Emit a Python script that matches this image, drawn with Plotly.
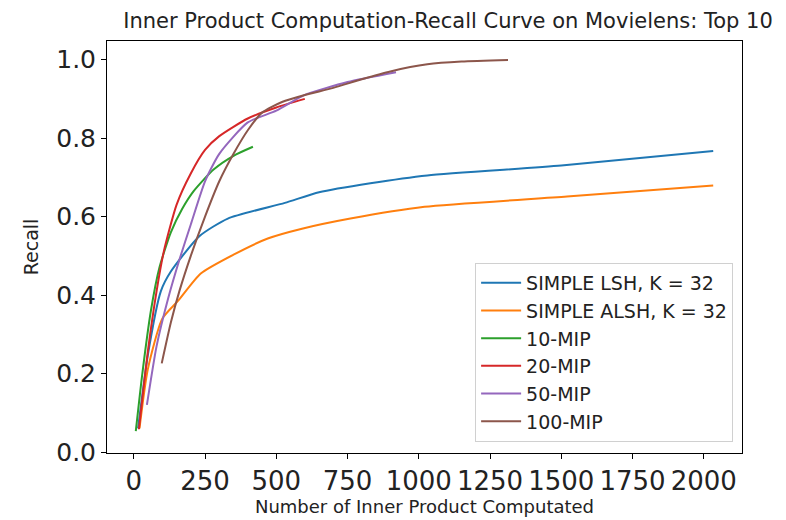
import plotly.graph_objects as go

title = "Inner Product Computation-Recall Curve on Movielens: Top 10"
x_label = "Number of Inner Product Computated"
y_label = "Recall"

names = ["SIMPLE LSH, K = 32", "SIMPLE ALSH, K = 32", "10-MIP", "20-MIP", "50-MIP", "100-MIP"]
colors = ["#1f77b4", "#ff7f0e", "#2ca02c", "#d62728", "#9467bd", "#8c564b"]

lsh_x = [15, 50, 95, 130, 230, 330, 530, 650, 830, 1030, 1500, 2033]
lsh_y = [0.06, 0.25, 0.41, 0.46, 0.55, 0.595, 0.635, 0.662, 0.685, 0.705, 0.73, 0.767]

alsh_x = [20, 49, 100, 155, 235, 350, 470, 590, 760, 1020, 1520, 2033]
alsh_y = [0.06, 0.21, 0.34, 0.385, 0.455, 0.503, 0.544, 0.569, 0.595, 0.625, 0.651, 0.679]

mip10_x = [7, 30, 60, 90, 130, 170, 210, 280, 350, 418]
mip10_y = [0.053, 0.2, 0.36, 0.47, 0.56, 0.62, 0.665, 0.72, 0.755, 0.778]

mip20_x = [18, 50, 80, 105, 150, 200, 250, 300, 400, 500, 600]
mip20_y = [0.058, 0.26, 0.41, 0.51, 0.63, 0.71, 0.77, 0.805, 0.85, 0.878, 0.9]

mip50_x = [46, 80, 120, 160, 200, 250, 300, 400, 500, 600, 750, 920]
mip50_y = [0.12, 0.27, 0.39, 0.49, 0.58, 0.69, 0.76, 0.84, 0.87, 0.91, 0.943, 0.968]

mip100_x = [98, 130, 160, 200, 250, 300, 350, 400, 450, 520, 600, 700, 800, 900, 1030, 1150, 1313]
mip100_y = [0.226, 0.33, 0.41, 0.5, 0.6, 0.69, 0.76, 0.82, 0.865, 0.892, 0.91, 0.928, 0.95, 0.97, 0.988, 0.995, 0.999]

x_ticks = [0, 250, 500, 750, 1000, 1250, 1500, 1750, 2000]
y_ticks = [0.0, 0.2, 0.4, 0.6, 0.8, 1.0]

series = [(lsh_x, lsh_y), (alsh_x, alsh_y), (mip10_x, mip10_y),
          (mip20_x, mip20_y), (mip50_x, mip50_y), (mip100_x, mip100_y)]

fig = go.Figure()
for (xs, ys), n, c in zip(series, names, colors):
    fig.add_trace(go.Scatter(x=xs, y=ys, mode="lines", name=n,
                             line=dict(color=c, width=2, shape="spline", smoothing=0.6)))

font = "DejaVu Sans"
tc = "#222"
fig.update_layout(
    width=786, height=520,
    margin=dict(l=107, r=44, t=41, b=67),
    paper_bgcolor="white", plot_bgcolor="white",
    font=dict(family=font, color=tc),
    showlegend=True,
    legend=dict(x=0.986, y=0.027, xanchor="right", yanchor="bottom",
                bgcolor="rgba(255,255,255,0.8)", bordercolor="#d0d0d0", borderwidth=1,
                font=dict(size=19, family=font, color=tc), itemwidth=40, tracegroupgap=0),
    xaxis=dict(range=[-94, 2134], tickvals=x_ticks, ticktext=[str(v) for v in x_ticks],
               showgrid=False, zeroline=False, showline=True, linecolor="black", linewidth=1,
               mirror=True, ticks="outside", ticklen=5, tickcolor="black", automargin=False,
               tickfont=dict(size=26, family=font, color=tc),
               title=dict(text=x_label, font=dict(size=18, family=font, color=tc), standoff=2)),
    yaxis=dict(range=[-0.0025, 1.0475], tickvals=y_ticks, ticktext=[f"{v:.1f}" for v in y_ticks],
               showgrid=False, zeroline=False, showline=True, linecolor="black", linewidth=1,
               mirror=True, ticks="outside", ticklen=5, tickcolor="black", automargin=False,
               tickfont=dict(size=25, family=font, color=tc),
               title=dict(text=y_label, font=dict(size=19, family=font, color=tc), standoff=12)),
    title=dict(text=title, x=448 / 786, xanchor="center", y=1 - 21 / 520, yanchor="middle",
               font=dict(size=21, family=font, color=tc)),
)
fig.write_html("out.html", config={"displayModeBar": False},
               post_script="document.body.style.margin='0';document.body.style.overflow='hidden';")
